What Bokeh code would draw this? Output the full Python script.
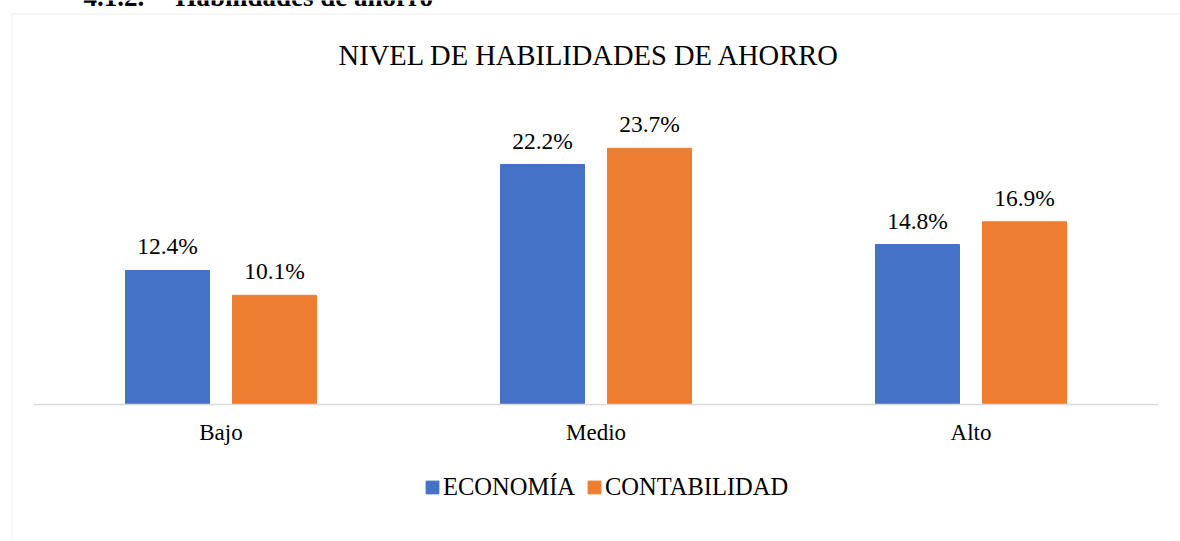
from bokeh.plotting import figure
from bokeh.models import (ColumnDataSource, Range1d, Legend, LegendItem,
                          BoxAnnotation, FixedTicker)
from bokeh.transform import dodge
from bokeh.core.properties import value
from bokeh.embed import file_html
from bokeh.resources import INLINE

# ---- data ----
categories = ["Bajo", "Medio", "Alto"]
economia = [12.4, 22.2, 14.8]
contabilidad = [10.1, 23.7, 16.9]
series_names = ["ECONOMÍA", "CONTABILIDAD"]
chart_title = "NIVEL DE HABILIDADES DE AHORRO"
heading_num = "4.1.2."
heading_text = "Habilidades de ahorro"

# ---- style / layout constants ----
FONT = "Liberation Serif"
BLUE = "#4472C4"
ORANGE = "#ED7D31"
GREY = "#D9D9D9"
W_PX, H_PX = 1180, 541
PX_X = 375.0          # pixels per category slot
PX_Y = 10.81          # pixels per percentage point
CAT0_PX = 220.5       # centre of first category, px from left
BASE_PX = 404.0       # baseline, px from top

X0 = -CAT0_PX / PX_X
X1 = X0 + W_PX / PX_X
Y1 = BASE_PX / PX_Y
Y0 = Y1 - H_PX / PX_Y

def xs(px):
    return X0 + px / PX_X

def ys(py):
    return Y1 - py / PX_Y

idx = list(range(len(categories)))
src = ColumnDataSource(dict(
    idx=idx,
    cat=categories,
    eco=economia,
    con=contabilidad,
    eco_lbl=[f"{v:.1f}%" for v in economia],
    con_lbl=[f"{v:.1f}%" for v in contabilidad],
))

p = figure(x_range=Range1d(X0, X1), y_range=Range1d(Y0, Y1),
           width=W_PX, height=H_PX,
           output_backend="svg", toolbar_location=None,
           min_border=0, min_border_left=0, min_border_right=0,
           min_border_top=0, min_border_bottom=0)
p.title.visible = False
p.xgrid.grid_line_color = None
p.ygrid.grid_line_color = None
p.outline_line_color = None
p.yaxis.visible = False

# outer chart border (extends beyond the page on right/bottom)
p.add_layout(BoxAnnotation(left=xs(11.5), right=X1 + 5, top=ys(13.5), bottom=Y0 - 5,
                           fill_alpha=0, line_color=GREY, line_width=1.5))

OFF = 0.1427
W = 0.224
r1 = p.vbar(x=dodge("idx", -OFF), top="eco", width=W, bottom=0,
            source=src, fill_color=BLUE, line_color=BLUE)
r2 = p.vbar(x=dodge("idx", OFF), top="con", width=W, bottom=0,
            source=src, fill_color=ORANGE, line_color=ORANGE)

for col, lbl, off in (("eco", "eco_lbl", -OFF), ("con", "con_lbl", OFF)):
    p.text(x=dodge("idx", off), y=col, text=lbl, source=src,
           text_font=value(FONT), text_font_size="23.5px", text_color="#000000",
           text_align="center", text_baseline="middle", y_offset=-24)

# category axis drawn at y = 0
ax = p.xaxis[0]
ax.fixed_location = 0
ax.bounds = (-0.5, len(categories) - 0.5)
ax.ticker = FixedTicker(ticks=idx)
ax.major_label_overrides = {i: c for i, c in zip(idx, categories)}
ax.axis_line_color = GREY
ax.axis_line_width = 1.5
ax.major_tick_line_color = None
ax.minor_tick_line_color = None
ax.major_tick_out = 0
ax.major_tick_in = 0
ax.major_label_standoff = 15
ax.major_label_text_font = FONT
ax.major_label_text_font_size = "23px"
ax.major_label_text_color = "#000000"

# chart title
p.text(x=[xs(589)], y=[ys(55)], text=[chart_title],
       text_font=value(FONT), text_font_size="28.5px", text_color="#000000",
       text_align="center", text_baseline="middle")

# document heading, cut by the top edge of the page
p.text(x=[xs(83), xs(175)], y=[ys(1), ys(1)], text=[heading_num, heading_text],
       text_font=value(FONT), text_font_size="27px", text_font_style="bold",
       text_color="#000000", text_align="left", text_baseline="middle",
       y_offset=-5)

legend = Legend(items=[LegendItem(label=series_names[0], renderers=[r1]),
                       LegendItem(label=series_names[1], renderers=[r2])],
                orientation="horizontal", location=(424, 40),
                glyph_width=16, glyph_height=16, label_standoff=3, spacing=11,
                padding=0, margin=0, border_line_color=None,
                background_fill_alpha=0,
                label_text_font=FONT, label_text_font_size="24.5px",
                label_text_color="#000000")
p.add_layout(legend)

open("out.html", "w").write(file_html(p, INLINE))
